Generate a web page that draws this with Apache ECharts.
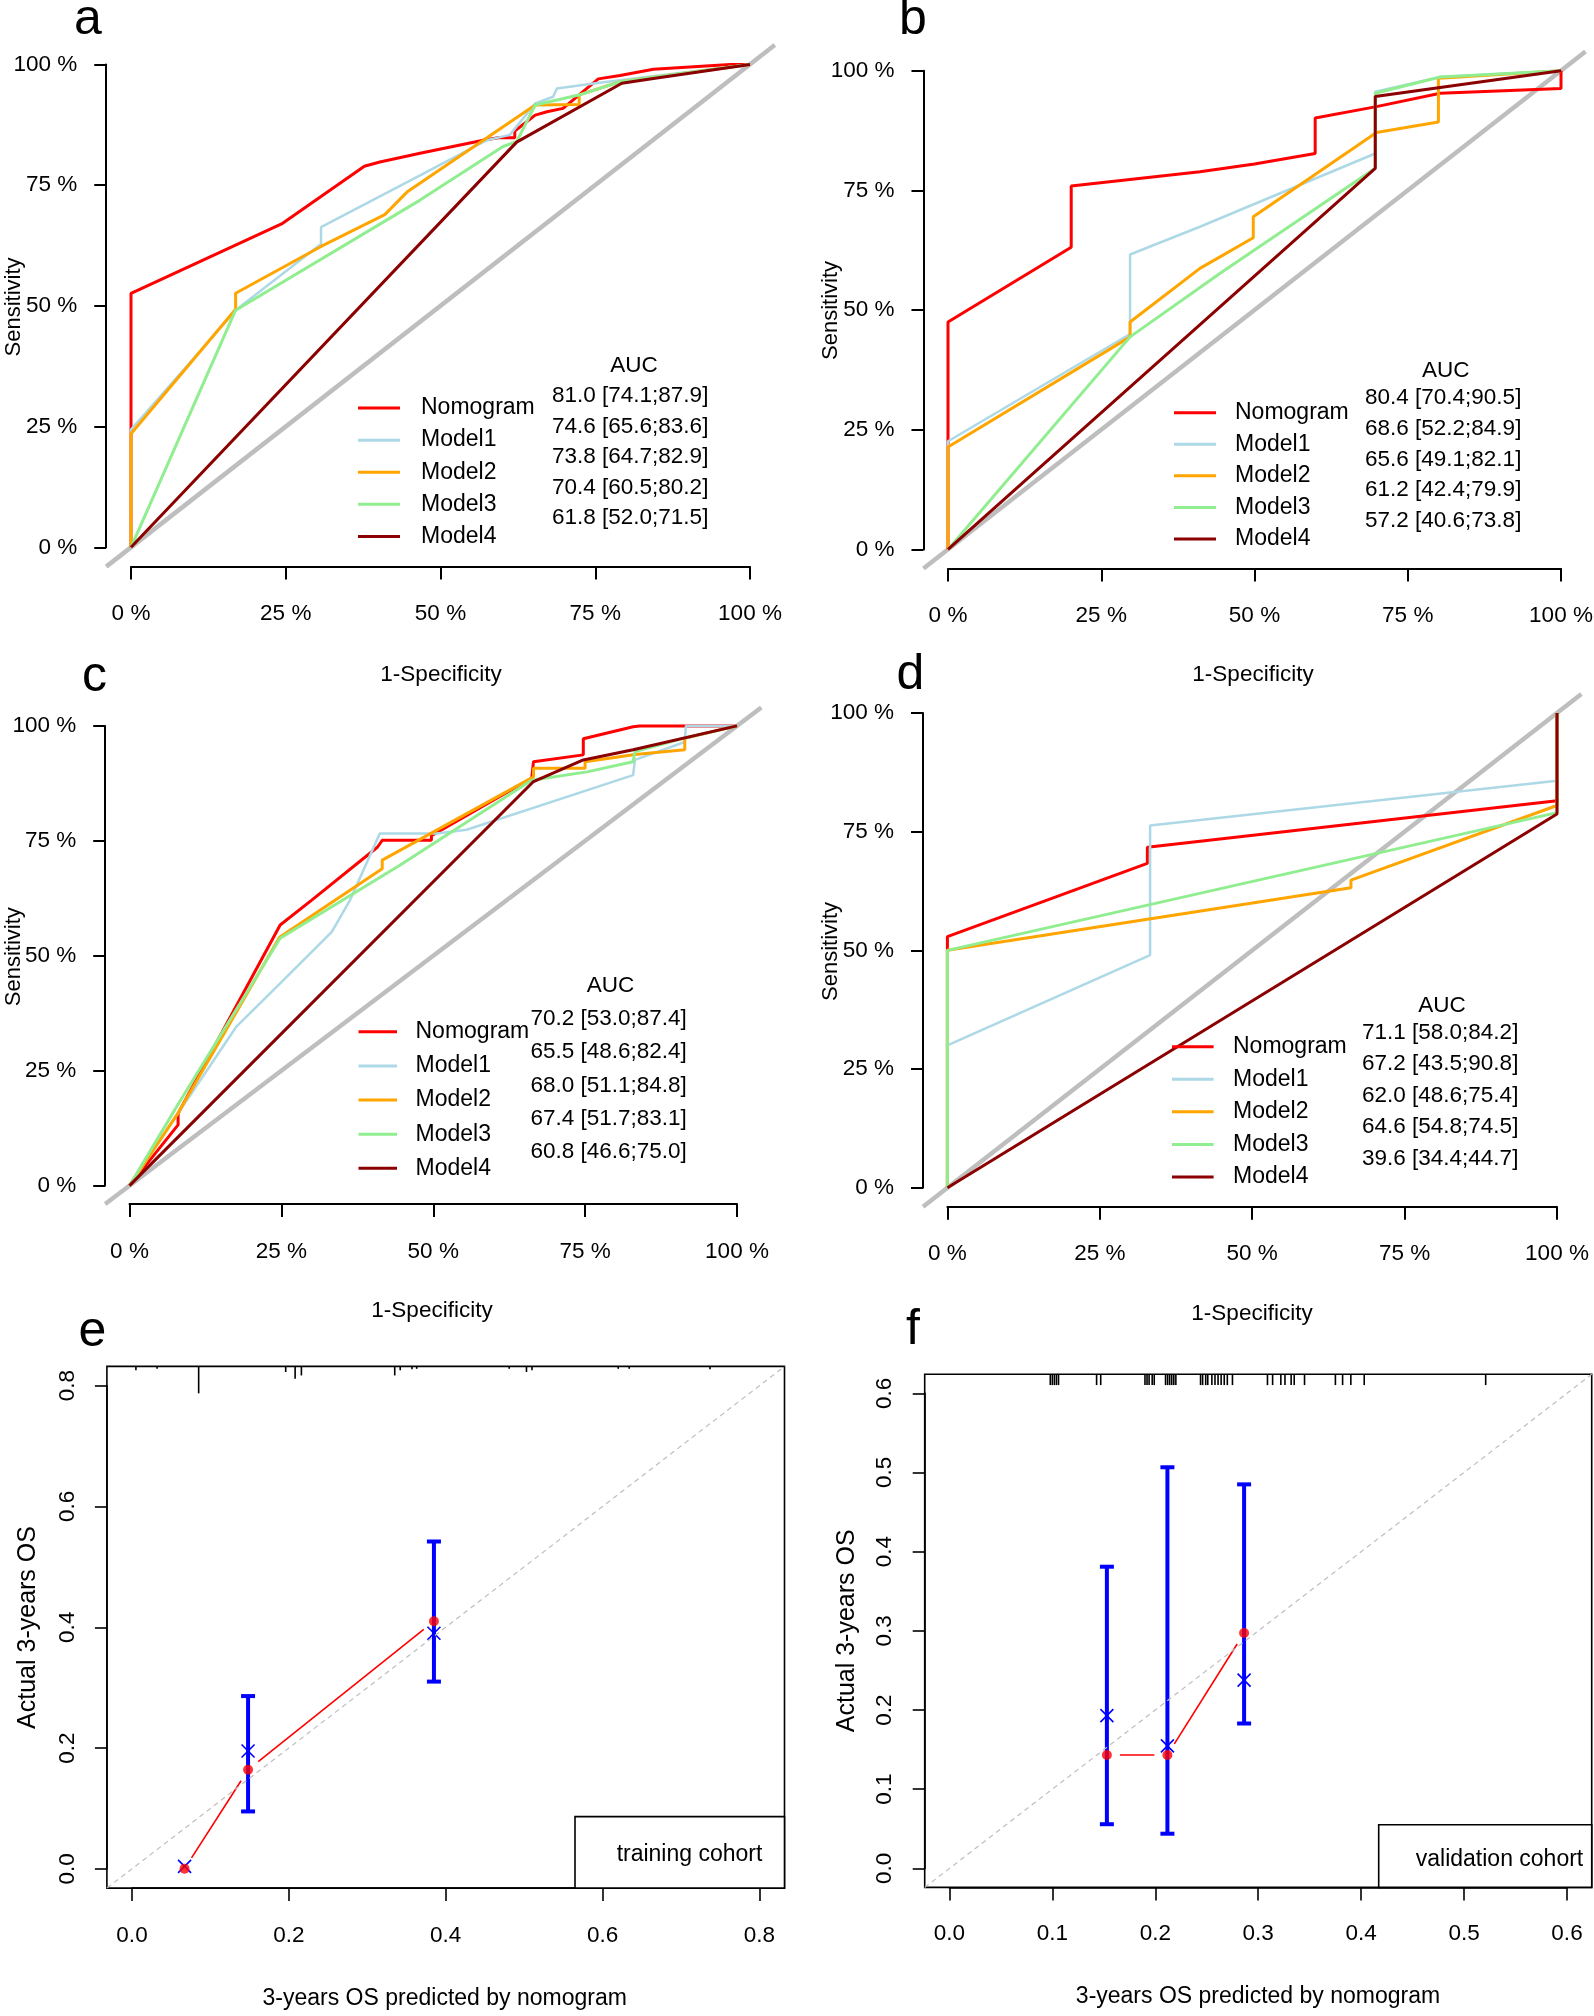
<!DOCTYPE html>
<html><head><meta charset="utf-8">
<script src="https://cdn.jsdelivr.net/npm/echarts@6/dist/echarts.min.js"></script>
<style>html,body{margin:0;padding:0;background:#fff}#c{width:1594px;height:2016px}</style>
</head><body><div id="c"></div>
<script>
// ================= DATA =================
const modelNames = ['Nomogram','Model1','Model2','Model3','Model4'];
const modelColors = ['#FF0000','#ADD8E6','#FFA500','#90EE90','#8B0000'];
const rocTickValues = [0,25,50,75,100];

// panel a
const rocA_Nomogram = [[0,0],[0,52.6],[24.5,67.1],[37.7,78.9],[40.2,79.8],[46.7,81.6],[56.9,84.3],[59.3,84.8],[62,84.8],[62,86.2],[65.3,89.5],[67.2,90.2],[69.8,90.9],[73.6,95],[75.5,97],[79,97.7],[84.4,99],[96.8,100],[100,100]];
const rocA_Model1 = [[0,0],[0,24.4],[17.1,49.3],[30.7,62.8],[30.7,66.3],[46.7,77],[57.5,84.3],[61.2,85.4],[65.3,91.9],[68.2,93.3],[68.8,95],[75,96.1],[100,100]];
const rocA_Model2 = [[0,0],[0,23.5],[16.9,49.3],[16.9,52.6],[30.7,62.3],[41,68.9],[44.7,73.7],[65.3,91.6],[72.4,91.7],[72.4,93.7],[79,96.4],[100,100]];
const rocA_Model3 = [[0,0],[16.9,49.1],[46.7,71.9],[60.1,83],[62.3,84],[65.3,91.6],[72.5,93.7],[79,96.4],[100,100]];
const rocA_Model4 = [[0,0],[62.3,83.9],[79.3,96.1],[84.4,97.1],[100,100]];
const aucA = ['81.0 [74.1;87.9]','74.6 [65.6;83.6]','73.8 [64.7;82.9]','70.4 [60.5;80.2]','61.8 [52.0;71.5]'];

// panel b
const rocB_Nomogram = [[0,0],[0,47.5],[20.1,63.1],[20.1,75.9],[41.1,78.9],[50,80.5],[59.9,82.7],[59.9,90.1],[69.9,92.5],[80.3,95.3],[100,96.3],[100,100]];
const rocB_Model1 = [[0,0],[0,22.6],[29.7,45],[29.7,61.6],[41.1,67.4],[69.7,82.7],[69.7,95.6],[80.3,98.7],[100,100]];
const rocB_Model2 = [[0,0],[0,21.4],[29.7,44.4],[29.7,47.5],[41.1,58.7],[49.8,65.1],[49.8,69.5],[69.9,87.1],[80,89.3],[80,98.4],[100,100]];
const rocB_Model3 = [[0,0],[29.7,44.4],[44.4,57.7],[69.7,79.6],[69.7,95.3],[80.3,98.7],[100,100]];
const rocB_Model4 = [[0,0],[69.7,79.6],[69.7,94.6],[100,100]];
const aucB = ['80.4 [70.4;90.5]','68.6 [52.2;84.9]','65.6 [49.1;82.1]','61.2 [42.4;79.9]','57.2 [40.6;73.8]'];

// panel c
const rocC_Nomogram = [[0,0],[8,13.2],[8,15.7],[24.8,56.7],[30,62.1],[40.8,73.6],[41.6,75.1],[49.7,75.1],[49.7,76.1],[66.2,88.6],[66.5,92.2],[74.7,93.7],[74.7,97.2],[82.9,99.8],[84,100],[100,100]];
const rocC_Model1 = [[0,0],[17.6,34.6],[24.8,44],[33.3,55.2],[36.3,62.1],[41.2,76.6],[50.6,76.6],[55.5,77.4],[82.9,89.3],[83.2,92.6],[91.4,96.5],[91.6,100],[100,100]];
const rocC_Model2 = [[0,0],[8.1,16],[24.7,54],[41.6,68.9],[41.6,70.8],[66.5,88.9],[66.5,90.8],[75,90.8],[75,92.2],[83.2,93.8],[91.4,94.8],[91.4,97.3],[100,100]];
const rocC_Model3 = [[0,0],[8.1,17.9],[24.8,53.8],[44.5,69.7],[66.2,88.2],[75.3,90],[82.9,92.2],[83.2,94.4],[91.2,97.3],[100,100]];
const rocC_Model4 = [[0,0],[66.5,87.9],[74.7,92.6],[82.9,94.8],[100,100]];
const aucC = ['70.2 [53.0;87.4]','65.5 [48.6;82.4]','68.0 [51.1;84.8]','67.4 [51.7;83.1]','60.8 [46.6;75.0]'];

// panel d
const rocD_Nomogram = [[0,0],[0,52.9],[32.8,68.3],[32.8,71.7],[100,81.5],[100,100]];
const rocD_Model1 = [[0,0],[0,30],[33.25,49],[33.25,76.3],[100,85.7],[100,100]];
const rocD_Model2 = [[0,0],[0,50],[66.2,63.2],[66.2,64.8],[100,80.5],[100,100]];
const rocD_Model3 = [[0,0],[0,50],[100,79],[100,100]];
const rocD_Model4 = [[0,0],[100,78.7],[100,100]];
const aucD = ['71.1 [58.0;84.2]','67.2 [43.5;90.8]','62.0 [48.6;75.4]','64.6 [54.8;74.5]','39.6 [34.4;44.7]'];

// panel e (calibration, training cohort)
const calE_ticks = [0,0.2,0.4,0.6,0.8];
const calE_pred = [0.067,0.148,0.385];
const calE_obs  = [0.0,0.164,0.41];
const calE_corr = [0.004,0.195,0.39];
const calE_low  = [null,0.095,0.31];
const calE_high = [null,0.286,0.542];
const calE_rugX = [0.005,0.032,0.085,0.196,0.208,0.216,0.335,0.342,0.357,0.363,0.481,0.503,0.510,0.620,0.634,0.737];
const calE_rugN = [1.6,1,11,2.3,5.1,3.7,3.7,1.6,1.2,1,1,2.3,1.6,1,1,1.2];

// panel f (calibration, validation cohort)
const calF_ticks = [0,0.1,0.2,0.3,0.4,0.5,0.6];
const calF_pred = [0.153,0.2118,0.2863];
const calF_obs  = [0.1433,0.1433,0.2973];
const calF_corr = [0.193,0.1547,0.2378];
const calF_low  = [0.0558,0.0438,0.183];
const calF_high = [0.381,0.5066,0.485];
const calF_rugX = [0.098,0.1,0.102,0.104,0.106,0.143,0.147,0.19,0.192,0.194,0.197,0.199,0.21,0.212,0.214,0.216,0.218,0.22,0.244,0.246,0.249,0.251,0.255,0.258,0.261,0.264,0.267,0.27,0.275,0.309,0.314,0.322,0.326,0.332,0.335,0.345,0.375,0.382,0.39,0.403,0.521];
const calF_rugN = calF_rugX.map(() => 1);

// ================= LAYOUT / STYLE =================
const FN = "'Liberation Sans',Arial,sans-serif";
const FR = "'Liberation Sans',Arial,sans-serif";
const TICK_FS = 22.5, LEG_FS = 23, AUC_FS = 22.5;

const rocPanels = [
  {px:{x0:131,x1:750,y0:547.3,y1:64.4}, curves:[rocA_Nomogram,rocA_Model1,rocA_Model2,rocA_Model3,rocA_Model4], auc:aucA,
   letter:['a',74,20], leg:{left:358,top:394.3,gap:4.6,w:42,pad:16}, aucPos:{cx:634,cy:366,left:552,y0:396,step:30.5},
   xt:[441,675], yt:[13.5,307]},
  {px:{x0:948,x1:1561,y0:549.4,y1:70.7}, curves:[rocB_Nomogram,rocB_Model1,rocB_Model2,rocB_Model3,rocB_Model4], auc:aucB,
   letter:['b',899,20], leg:{left:1174,top:398.9,gap:4.1,w:42,pad:14}, aucPos:{cx:1445.7,cy:370.5,left:1365,y0:397.8,step:30.75},
   xt:[1253,675], yt:[831,310.5]},
  {px:{x0:129.5,x1:737,y0:1185.6,y1:725.9}, curves:[rocC_Nomogram,rocC_Model1,rocC_Model2,rocC_Model3,rocC_Model4], auc:aucC,
   letter:['c',82,677.5], leg:{left:358.5,top:1018,gap:6.65,w:38.5,pad:13.5}, aucPos:{cx:610.5,cy:986,left:530.4,y0:1018.6,step:33.4},
   xt:[432,1311], yt:[14,956.7]},
  {px:{x0:947.4,x1:1557,y0:1187.8,y1:712.9}, curves:[rocD_Nomogram,rocD_Model1,rocD_Model2,rocD_Model3,rocD_Model4], auc:aucD,
   letter:['d',896.6,675.4], leg:{left:1172,top:1033,gap:5.05,w:41.6,pad:14.4}, aucPos:{cx:1442,cy:1005.6,left:1362,y0:1032.5,step:31.45},
   xt:[1252,1313.5], yt:[831,951.4]}
];

const calPanels = [
  {px:{x0:132,x1:759.4,y0:1868.8,y1:1385.7}, ticks:calE_ticks, pred:calE_pred, obs:calE_obs, corr:calE_corr, low:calE_low, high:calE_high,
   rugX:calE_rugX, rugN:calE_rugN, rugK:2.45, letter:['e',78.6,1332.5], legText:'training cohort', legBox:[575,1816.6], legTxt:[689.5,1855],
   xt:[444.7,1999], yt:[28,1627.5], xMargin:36, yMargin:28},
  {px:{x0:949.4,x1:1567,y0:1868.4,y1:1393.3}, ticks:calF_ticks, pred:calF_pred, obs:calF_obs, corr:calF_corr, low:calF_low, high:calF_high,
   rugX:calF_rugX, rugN:calF_rugN, rugK:10.8, letter:['f',906,1330.3], legText:'validation cohort', legBox:[1378.7,1824.7], legTxt:[1499.5,1859.4],
   xt:[1258,1996.7], yt:[847.3,1630.8], xMargin:34.5, yMargin:28.6}
];

// ================= BUILD =================
const grid=[], xAxis=[], yAxis=[], series=[], legend=[], graphic=[];

function txt(text, x, y, size, family, align, rot){
  graphic.push({type:'text', x:x, y:y, rotation:rot||0, silent:true, z:10,
    style:{text:text, fill:'#000', fontSize:size, fontFamily:family, align:align||'center', verticalAlign:'middle'}});
}

function addPanelAxes(p, tmin, tmax, interval, fmt, o){
  const e = 0.04, sx = p.x1-p.x0, sy = p.y0-p.y1, r = tmax-tmin;
  const gi = grid.length;
  grid.push({left:p.x0-e*sx, top:p.y1-e*sy, width:(1+2*e)*sx, height:(1+2*e)*sy, show:!!o.box,
    borderColor:'#000', borderWidth:1.6, backgroundColor:'transparent', containLabel:false, outerBoundsMode:'none'});
  xAxis.push({gridIndex:gi, type:'value', min:tmin-e*r, max:tmax+e*r, show:false});
  yAxis.push({gridIndex:gi, type:'value', min:tmin-e*r, max:tmax+e*r, show:false});
  grid.push({left:p.x0, top:p.y1, width:sx, height:sy, show:false, containLabel:false, outerBoundsMode:'none'});
  const line = {show:true, onZero:false, lineStyle:{color:'#000', width:o.lw}};
  xAxis.push({gridIndex:gi+1, type:'value', min:tmin, max:tmax, interval:interval, position:'bottom', offset:e*sy,
    axisLine:line, axisTick:{show:true, inside:false, length:13, lineStyle:{color:'#000', width:o.lw}},
    axisLabel:{show:true, color:'#000', fontSize:TICK_FS, fontFamily:FN, margin:o.xm, formatter:fmt, showMinLabel:true, showMaxLabel:true, hideOverlap:false},
    splitLine:{show:false}});
  yAxis.push({gridIndex:gi+1, type:'value', min:tmin, max:tmax, interval:interval, position:'left', offset:e*sx,
    axisLine:line, axisTick:{show:true, inside:false, length:12, lineStyle:{color:'#000', width:o.lw}},
    axisLabel:{show:true, color:'#000', fontSize:TICK_FS, fontFamily:FN, margin:o.ym, rotate:o.rot||0, formatter:fmt, showMinLabel:true, showMaxLabel:true, hideOverlap:false},
    splitLine:{show:false}});
  return {gi:gi, lo:tmin-e*r, hi:tmax+e*r};
}

// ---- ROC panels ----
rocPanels.forEach(function(P){
  const ax = addPanelAxes(P.px, rocTickValues[0], rocTickValues[rocTickValues.length-1], rocTickValues[1]-rocTickValues[0],
    function(v){return v+' %';}, {lw:2, xm:36, ym:29});
  series.push({type:'line', name:'diag', xAxisIndex:ax.gi, yAxisIndex:ax.gi, data:[[ax.lo,ax.lo],[ax.hi,ax.hi]],
    symbol:'none', clip:true, silent:true, lineStyle:{color:'#BEBEBE', width:4.5}, animation:false});
  P.curves.forEach(function(d,i){
    series.push({type:'line', name:modelNames[i], xAxisIndex:ax.gi, yAxisIndex:ax.gi, data:d, symbol:'none', showSymbol:false,
      clip:true, color:modelColors[i], itemStyle:{color:modelColors[i]},
      lineStyle:{color:modelColors[i], width:i===1?2.5:3}, animation:false});
  });
  legend.push({data:modelNames, orient:'vertical', left:P.leg.left, top:P.leg.top, padding:0, itemGap:P.leg.gap,
    icon:'rect', itemWidth:P.leg.w, itemHeight:3, selectedMode:false,
    textStyle:{fontSize:LEG_FS, fontFamily:FN, color:'#000', lineHeight:27.5, padding:[0,0,0,P.leg.pad]}});
  txt('AUC', P.aucPos.cx, P.aucPos.cy, AUC_FS, FN, 'center');
  P.auc.forEach(function(s,i){ txt(s, P.aucPos.left, P.aucPos.y0+i*P.aucPos.step, AUC_FS, FN, 'left'); });
  txt(P.letter[0], P.letter[1], P.letter[2], 50, FR, 'left');
  txt('1-Specificity', P.xt[0], P.xt[1], 22.5, FN, 'center');
  txt('Sensitivity', P.yt[0], P.yt[1], 22, FR, 'center', Math.PI/2);
});

// ---- calibration panels ----
calPanels.forEach(function(P){
  const t = P.ticks;
  const ax = addPanelAxes(P.px, t[0], t[t.length-1], t[1]-t[0], function(v){return v.toFixed(1);},
    {lw:1.6, box:true, xm:P.xMargin, ym:P.yMargin, rot:90});
  const gi = ax.gi;
  // identity reference line
  series.push({type:'line', xAxisIndex:gi, yAxisIndex:gi, data:[[ax.lo,ax.lo],[ax.hi,ax.hi]], symbol:'none', silent:true, clip:true,
    lineStyle:{color:'#BEBEBE', width:1.2, type:[5,4]}, animation:false});
  // rug of predicted values along the top edge
  const rug = P.rugX.map(function(x,i){return [x, P.rugN[i]];});
  const k = P.rugK, top = ax.hi;
  series.push({type:'custom', xAxisIndex:gi, yAxisIndex:gi, data:rug, silent:true, animation:false, clip:false,
    encode:{x:0, y:1},
    renderItem:function(params, api){
      const pt = api.coord([api.value(0), top]);
      return {type:'line', shape:{x1:pt[0], y1:pt[1], x2:pt[0], y2:pt[1]+api.value(1)*k},
        style:{stroke:'#000', lineWidth:1.6}};
    }});
  // error bars
  const bars = [];
  P.pred.forEach(function(x,i){ if(P.low[i]!==null) bars.push([x, P.low[i], P.high[i]]); });
  series.push({type:'custom', xAxisIndex:gi, yAxisIndex:gi, data:bars, silent:true, animation:false, clip:false,
    encode:{x:0, y:[1,2]},
    renderItem:function(params, api){
      const a = api.coord([api.value(0), api.value(1)]), b = api.coord([api.value(0), api.value(2)]);
      const s = {stroke:'#0000FF', lineWidth:4}, c = 7;
      return {type:'group', children:[
        {type:'line', shape:{x1:a[0], y1:a[1], x2:b[0], y2:b[1]}, style:s},
        {type:'line', shape:{x1:a[0]-c, y1:a[1], x2:a[0]+c, y2:a[1]}, style:s},
        {type:'line', shape:{x1:b[0]-c, y1:b[1], x2:b[0]+c, y2:b[1]}, style:s}]};
    }});
  // bias-corrected 'x' marks
  series.push({type:'custom', xAxisIndex:gi, yAxisIndex:gi, data:P.pred.map(function(x,i){return [x, P.corr[i]];}),
    silent:true, animation:false, clip:false, encode:{x:0, y:1},
    renderItem:function(params, api){
      const p = api.coord([api.value(0), api.value(1)]), h = 6.5;
      const s = {stroke:'#0000FF', lineWidth:1.6};
      return {type:'group', children:[
        {type:'line', shape:{x1:p[0]-h, y1:p[1]-h, x2:p[0]+h, y2:p[1]+h}, style:s},
        {type:'line', shape:{x1:p[0]-h, y1:p[1]+h, x2:p[0]+h, y2:p[1]-h}, style:s}]};
    }});
  // red connecting segments (type "b": gaps around points)
  const segs = [];
  for(let i=0;i<P.pred.length-1;i++) segs.push([P.pred[i], P.obs[i], P.pred[i+1], P.obs[i+1]]);
  series.push({type:'custom', xAxisIndex:gi, yAxisIndex:gi, data:segs, silent:true, animation:false, clip:false,
    encode:{x:[0,2], y:[1,3]},
    renderItem:function(params, api){
      const a = api.coord([api.value(0), api.value(1)]), b = api.coord([api.value(2), api.value(3)]);
      const dx=b[0]-a[0], dy=b[1]-a[1], d=Math.sqrt(dx*dx+dy*dy), g=13;
      if(d<=2*g) return null;
      const ux=dx/d, uy=dy/d;
      return {type:'line', shape:{x1:a[0]+ux*g, y1:a[1]+uy*g, x2:b[0]-ux*g, y2:b[1]-uy*g}, style:{stroke:'#FF0000', lineWidth:1.6}};
    }});
  // red observed points
  series.push({type:'scatter', xAxisIndex:gi, yAxisIndex:gi, data:P.pred.map(function(x,i){return [x, P.obs[i]];}),
    symbol:'circle', symbolSize:10, itemStyle:{color:'#FF0000'}, silent:true, animation:false, z:5, clip:false});
  // legend box
  const sx = P.px.x1-P.px.x0, sy = P.px.y0-P.px.y1;
  const right = P.px.x1+0.04*sx, bottom = P.px.y0+0.04*sy;
  graphic.push({type:'rect', silent:true, z:9, shape:{x:P.legBox[0], y:P.legBox[1], width:right-P.legBox[0], height:bottom-P.legBox[1]},
    style:{fill:'#fff', stroke:'#000', lineWidth:1.6}});
  txt(P.legText, P.legTxt[0], P.legTxt[1], 23, FN, 'center');
  txt(P.letter[0], P.letter[1], P.letter[2], 50, FR, 'left');
  txt('3-years OS predicted by nomogram', P.xt[0], P.xt[1], 23, FN, 'center');
  txt('Actual 3-years OS', P.yt[0], P.yt[1], 25, FR, 'center', Math.PI/2);
});

const chart = echarts.init(document.getElementById('c'), null, {renderer:'canvas'});
chart.setOption({backgroundColor:'#fff', animation:false, grid:grid, xAxis:xAxis, yAxis:yAxis, legend:legend, series:series, graphic:graphic});
</script></body></html>
